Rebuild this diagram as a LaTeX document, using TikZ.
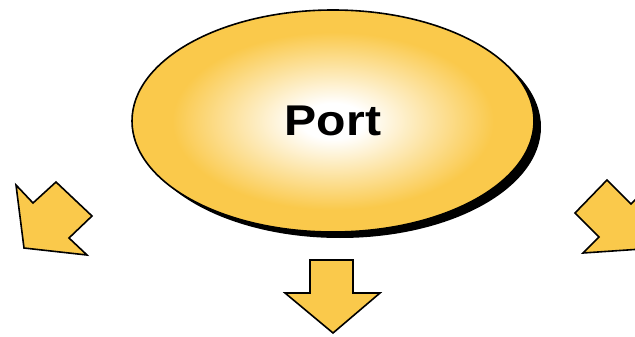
\documentclass[tikz,border=0pt]{standalone}
\usepackage{fontspec}
\setmainfont{Liberation Sans}
\usetikzlibrary{shapes.geometric,shadows}

\definecolor{portyellow}{RGB}{250,201,75}
% the inner 25bp radius of the shading covers the oval
\pgfdeclareradialshading{portglow}{\pgfpoint{0bp}{0bp}}{%
  color(0bp)=(white); color(4bp)=(white); color(20bp)=(portyellow); color(50bp)=(portyellow)}

\tikzset{
  x=1pt, y=-1pt,
  bigarrow/.style={fill=portyellow, draw=black, line width=1.6pt, line join=miter},
  portoval/.style={ellipse, minimum width=402pt, minimum height=222pt, inner sep=0pt,
    draw=black, line width=1.6pt, shading=portglow,
    general shadow={fill=black, shadow xshift=7pt, shadow yshift=-6pt},
    font=\bfseries\fontsize{43}{43}\selectfont}
}

\begin{document}
\begin{tikzpicture}
  \useasboundingbox (0,0) rectangle (635,337);
  \clip (0,0) rectangle (635,337);

  % central oval
  \node[portoval] (port) at (333,121) {\scalebox{1.12}[1]{Port}};

  % arrow pointing down-left
  \draw[bigarrow] (16,185) -- (33,203) -- (56,182) -- (92,216) -- (69,238)
    -- (87,255) -- (24,248) -- cycle;

  % arrow pointing down
  \draw[bigarrow] (310,260) -- (353,260) -- (353,293) -- (380,293) -- (333,333)
    -- (285,293) -- (310,293) -- cycle;

  % arrow pointing down-right
  \draw[bigarrow] (575,213) -- (607,180) -- (631,204) -- (646,189) -- (642,249)
    -- (583,253) -- (599,237) -- cycle;
\end{tikzpicture}
\end{document}
